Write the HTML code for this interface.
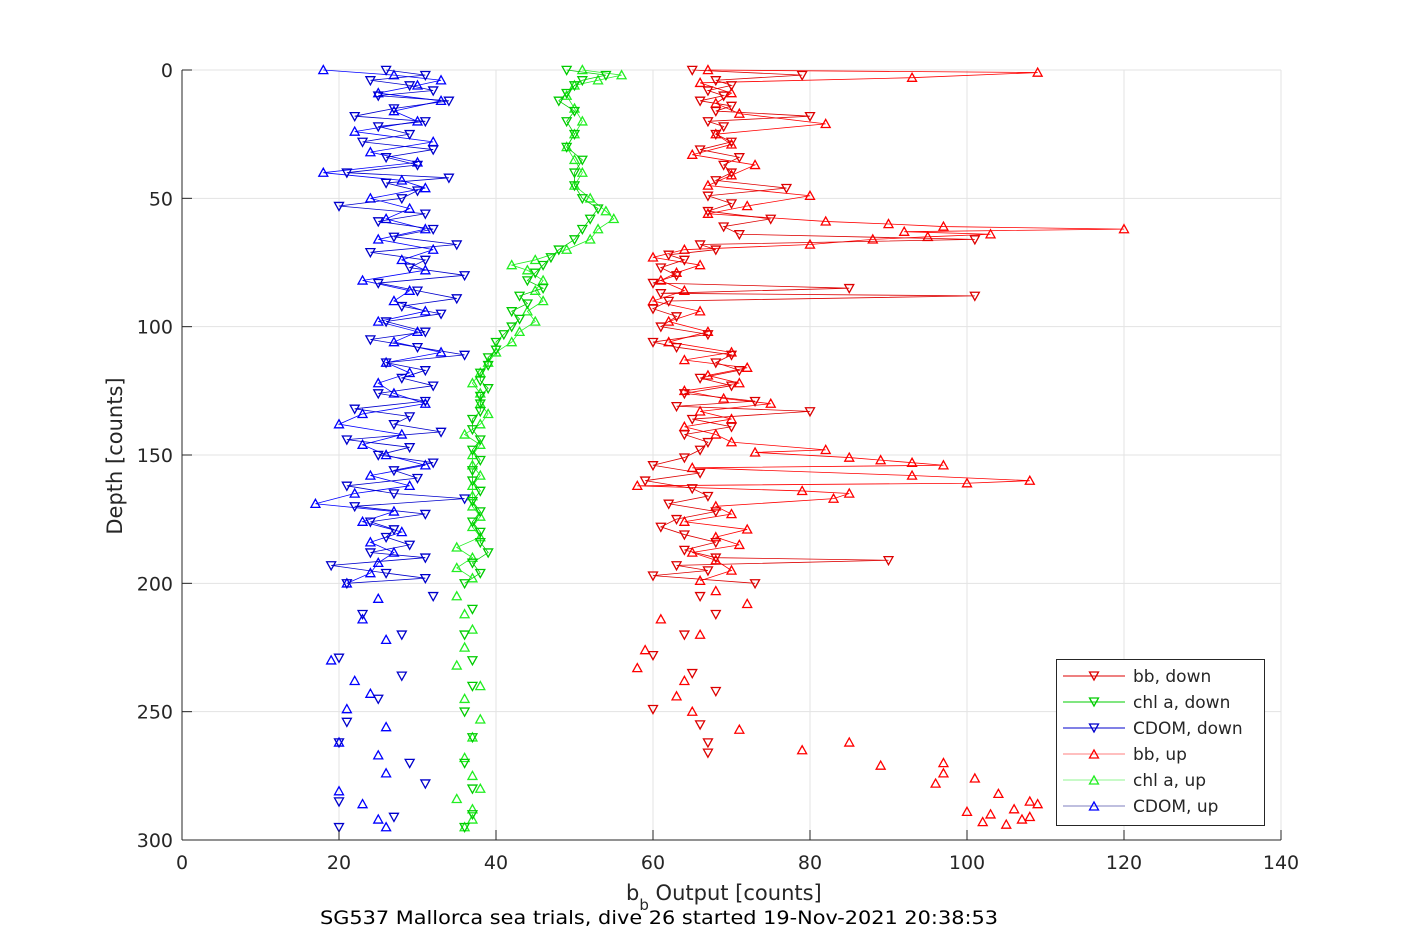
<!DOCTYPE html>
<html><head><meta charset="utf-8"><style>
body{margin:0;background:#fff;}
svg{display:block;font-family:"DejaVu Sans",sans-serif;}
</style></head><body>
<svg id="chart" width="1417" height="945"></svg>
<script>
// ---- data (depth, counts) ----
const bbDownDepth=[0,2,4,6,8,10,12,14,16,18,20,22,25,28,31,34,37,40,43,46,49,52,55,58,61,64,66,68,70,72,74,77,80,83,85,87,88,90,93,96,100,103,106,108,111,114,117,120,123,126,129,131,133,136,139,142,145,148,151,154,157,160,163,166,169,172,175,178,181,184,187,190,191,193,195,197,200,205,212,220,228,235,242,249,255,262,266];
const bbDownVal=[65,79,68,70,67,69,66,70,68,80,67,69,68,70,66,71,69,70,68,77,67,70,67,75,69,71,101,66,68,62,64,61,63,60,85,61,101,62,60,63,61,67,60,63,70,68,71,66,70,64,73,63,80,65,70,64,67,66,64,60,66,59,65,67,62,68,63,61,64,68,64,68,90,63,67,60,73,66,68,64,60,65,68,60,66,67,67];
const bbUpDepth=[0,1,3,5,9,13,17,21,25,29,33,37,41,45,49,53,56,59,60,61,62,63,64,65,66,68,70,73,76,79,82,86,90,94,98,102,106,110,113,116,119,122,125,128,130,133,136,139,142,145,148,149,151,152,153,154,155,158,160,161,162,164,165,167,170,173,176,179,182,185,188,191,195,199,203,208,214,220,226,233,238,244,250,257,262,265,270,271,274,276,278,282,285,286,288,289,290,291,292,293,294];
const bbUpVal=[67,109,93,66,70,68,71,82,68,70,65,73,70,67,80,72,67,82,90,97,120,92,103,95,88,80,64,60,66,63,61,64,60,66,62,67,62,70,64,72,67,71,64,69,75,66,70,64,68,70,82,73,85,89,93,97,65,93,108,100,58,79,85,83,68,70,64,72,68,71,65,68,70,66,68,72,61,66,59,58,64,63,65,71,85,79,97,89,97,101,96,104,108,109,106,100,103,108,107,102,105];
const chlDownDepth=[0,2,4,6,9,12,16,20,25,30,35,40,45,50,54,58,62,66,70,73,76,79,82,85,88,91,94,97,100,103,106,109,112,115,118,121,124,127,130,133,136,140,144,148,152,156,160,164,168,172,176,180,184,188,192,196,200,210,220,230,240,250,260,270,280,290,295];
const chlDownVal=[49,54,51,50,49,48,50,49,50,49,51,50,50,51,53,52,51,50,48,47,46,45,44,46,43,44,42,43,42,41,40,40,39,39,38,38,39,38,38,38,37,37,38,37,38,37,37,38,37,38,37,38,38,39,37,38,36,37,36,37,37,36,37,36,37,37,36];
const chlUpDepth=[0,2,4,6,10,15,20,25,30,35,40,45,50,55,58,62,66,70,74,76,78,82,86,90,94,98,102,106,110,114,118,122,126,130,134,138,142,146,150,154,158,162,166,170,174,178,182,186,190,194,198,205,212,218,225,232,240,245,253,260,268,275,280,284,288,292,295];
const chlUpVal=[51,56,53,50,49,50,51,50,49,50,51,50,52,54,55,53,52,49,45,42,44,46,45,46,44,45,43,42,40,39,38,37,38,38,39,38,36,38,37,37,38,37,37,37,38,37,38,35,37,35,37,35,36,37,36,35,38,36,38,37,36,37,38,35,37,37,36];
const cdomDownDepth=[0,2,4,6,8,10,12,15,18,20,22,25,28,31,34,37,40,42,44,47,50,53,56,59,62,65,68,71,74,77,80,83,86,89,92,95,98,102,105,108,111,114,117,120,123,126,129,132,135,138,141,144,147,150,153,156,159,162,165,167,170,173,176,179,182,185,188,190,193,196,198,200,205,212,220,229,236,245,254,262,270,278,285,291,295];
const cdomDownVal=[26,31,24,29,32,25,34,27,22,31,25,29,23,32,26,30,21,34,26,30,28,20,31,25,32,27,35,24,31,29,36,25,30,35,28,33,26,31,24,30,36,26,31,28,32,25,31,22,29,27,33,21,29,25,32,27,30,21,27,36,22,31,24,27,26,29,24,31,19,26,31,21,32,23,28,20,28,25,21,20,29,31,20,27,20];
const cdomUpDepth=[0,2,4,6,9,12,16,20,24,28,32,36,40,43,46,50,54,58,62,66,70,74,78,82,86,90,94,98,102,106,110,114,118,122,126,130,134,138,142,146,150,154,158,162,165,169,172,176,180,184,188,192,196,200,206,214,222,230,238,243,249,256,262,267,274,281,286,292,295];
const cdomUpVal=[18,27,33,30,25,33,27,30,22,32,24,30,18,28,31,24,29,26,31,25,32,28,31,23,29,27,31,25,30,27,33,26,29,25,27,31,23,20,28,23,26,31,24,29,22,17,27,23,28,24,27,25,24,21,25,23,26,19,22,24,21,26,20,25,26,20,23,25,26];
const xTicks=[0,20,40,60,80,100,120,140];
const yTicks=[0,50,100,150,200,250,300];

const NS="http://www.w3.org/2000/svg";
const svg=document.getElementById('chart');
const L=182,R=1281,T=70,B=840;
const xs=v=>L+(v-0)/140*(R-L);
const ys=d=>T+d/300*(B-T);
function mk(tag,attrs,parent){const e=document.createElementNS(NS,tag);for(const k in attrs)e.setAttribute(k,attrs[k]);(parent||svg).appendChild(e);return e;}

const frame=mk('rect',{x:L,y:T,width:R-L,height:B-T,fill:'#fff'});


const grid=mk('g',{stroke:'#e3e3e3','stroke-width':1});


xTicks.forEach(t=>mk('line',{x1:xs(t),x2:xs(t),y1:T,y2:B},grid));
yTicks.forEach(t=>mk('line',{x1:L,x2:R,y1:ys(t),y2:ys(t)},grid));

function tri(x,y,up){const s=4.5;return up?`M${x},${y-s} L${x+s},${y+s*0.8} L${x-s},${y+s*0.8} Z`:`M${x},${y+s} L${x+s},${y-s*0.8} L${x-s},${y-s*0.8} Z`;}
function series(name,depth,vals,color,up){
  const g=mk('g',{});
  
  
  let pts=[];
  for(let i=0;i<depth.length;i++){if(depth[i]<=200)pts.push(xs(vals[i])+','+ys(depth[i]));}
  mk('polyline',{points:pts.join(' '),fill:'none',stroke:color,'stroke-width':0.8},g);
  let d='';
  for(let i=0;i<depth.length;i++)d+=tri(xs(vals[i]),ys(depth[i]),up)+' ';
  mk('path',{d:d,fill:'none',stroke:color,'stroke-width':1.3},g);
}
series('cdom-up-series',cdomUpDepth,cdomUpVal,'#0000ff',true);
series('cdom-down-series',cdomDownDepth,cdomDownVal,'#0000cc',false);
series('chl-up-series',chlUpDepth,chlUpVal,'#22ee22',true);
series('chl-down-series',chlDownDepth,chlDownVal,'#00cc00',false);
series('bb-up-series',bbUpDepth,bbUpVal,'#ff0000',true);
series('bb-down-series',bbDownDepth,bbDownVal,'#dd0000',false);

const ax=mk('g',{stroke:'#262626','stroke-width':1,fill:'none'});


mk('line',{x1:L,x2:R,y1:B,y2:B},ax);
mk('line',{x1:L,x2:L,y1:T,y2:B},ax);
xTicks.forEach(t=>{mk('line',{x1:xs(t),x2:xs(t),y1:B,y2:B-10},ax);});
yTicks.forEach(t=>{mk('line',{x1:L,x2:L+10,y1:ys(t),y2:ys(t)},ax);});
xTicks.forEach(t=>{const e=mk('text',{x:xs(t),y:869,'text-anchor':'middle','font-size':19,fill:'#262626'});e.textContent=t;

});
yTicks.forEach(t=>{const e=mk('text',{x:173,y:ys(t)+7,'text-anchor':'end','font-size':19,fill:'#262626'});e.textContent=t;

});
</script>
<svg style="position:absolute;left:0;top:0" width="1417" height="945">
<text x="122" y="456" transform="rotate(-90 122 456)" text-anchor="middle" font-size="21" fill="#262626" font-family="DejaVu Sans, sans-serif">Depth [counts]</text>
<text x="626" y="900" font-size="21" fill="#262626" font-family="DejaVu Sans, sans-serif">b<tspan dy="10" font-size="15">b</tspan><tspan dy="-10"> Output [counts]</tspan></text>
<text x="320" y="924" textLength="678" lengthAdjust="spacingAndGlyphs" font-size="19" fill="#000" font-family="DejaVu Sans, sans-serif">SG537 Mallorca sea trials, dive 26 started 19-Nov-2021 20:38:53</text>
<g font-family="DejaVu Sans, sans-serif" font-size="17" fill="#262626">
<rect x="1056.5" y="659.5" width="208" height="166" fill="#fff" stroke="#262626"/>
<g><line x1="1063" x2="1125" y1="676" y2="676" stroke="#dd0000"/><path d="M1094,680 l4.5,-8 h-9 Z" fill="none" stroke="#dd0000" stroke-width="1.3"/><text x="1133" y="682">bb, down</text></g>
<g><line x1="1063" x2="1125" y1="702" y2="702" stroke="#00cc00"/><path d="M1094,706 l4.5,-8 h-9 Z" fill="none" stroke="#00cc00" stroke-width="1.3"/><text x="1133" y="708">chl a, down</text></g>
<g><line x1="1063" x2="1125" y1="728" y2="728" stroke="#0000cc"/><path d="M1094,732 l4.5,-8 h-9 Z" fill="none" stroke="#0000cc" stroke-width="1.3"/><text x="1133" y="734">CDOM, down</text></g>
<g><line x1="1063" x2="1125" y1="754" y2="754" stroke="#ff0000" stroke-width="0.6"/><path d="M1094,750 l4.5,8 h-9 Z" fill="none" stroke="#ff0000" stroke-width="1.3"/><text x="1133" y="760">bb, up</text></g>
<g><line x1="1063" x2="1125" y1="780" y2="780" stroke="#22ee22" stroke-width="0.6"/><path d="M1094,776 l4.5,8 h-9 Z" fill="none" stroke="#22ee22" stroke-width="1.3"/><text x="1133" y="786">chl a, up</text></g>
<g><line x1="1063" x2="1125" y1="806" y2="806" stroke="#000080" stroke-width="0.6"/><path d="M1094,802 l4.5,8 h-9 Z" fill="none" stroke="#0000ff" stroke-width="1.3"/><text x="1133" y="812">CDOM, up</text></g>
</g>
</svg>
</body></html>
